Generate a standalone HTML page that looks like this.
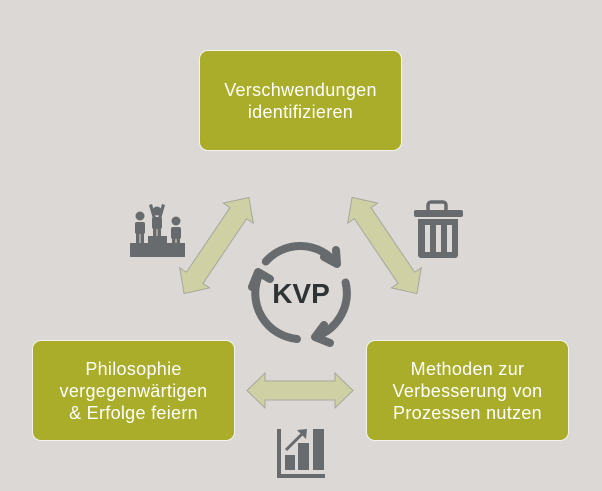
<!DOCTYPE html>
<html><head><meta charset="utf-8"><style>
html,body{margin:0;padding:0;background:#dcd8d5;}
body{width:602px;height:491px;position:relative;overflow:hidden;font-family:"Liberation Sans",sans-serif;}
.box{position:absolute;background:#a9ad29;border:1.5px solid #f4f4ec;border-radius:9px;color:#fff;font-size:18px;letter-spacing:0.3px;line-height:22px;text-align:center;display:flex;align-items:center;justify-content:center;box-sizing:border-box;}
</style></head><body>
<div class="box" style="left:199px;top:50px;width:203px;height:101px;">Verschwendungen<br>identifizieren</div>
<div class="box" style="left:32px;top:340px;width:203px;height:101px;">Philosophie<br>vergegenwärtigen<br>&amp; Erfolge feiern</div>
<div class="box" style="left:366px;top:340px;width:203px;height:101px;">Methoden zur<br>Verbesserung von<br>Prozessen nutzen</div>
<svg width="602" height="491" style="position:absolute;left:0;top:0">
<polygon points="247,390.5 265,373 265,381 335,381 335,373 353,390.5 335,408 335,400 265,400 265,408" fill="#cfd0a4" stroke="#a6a79c" stroke-width="1"/>
<g transform="translate(216.5,245.5) rotate(-56)">
<polygon points="-58,0 -39,-18 -39,-10 39,-10 39,-18 58,0 39,18 39,10 -39,10 -39,18" fill="#cfd0a4" stroke="#a6a79c" stroke-width="1"/>
</g>
<g transform="translate(384.5,245.5) rotate(56)">
<polygon points="-58,0 -39,-18 -39,-10 39,-10 39,-18 58,0 39,18 39,10 -39,10 -39,18" fill="#cfd0a4" stroke="#a6a79c" stroke-width="1"/>
</g>
<g fill="none" stroke="#676b6d" stroke-width="8" stroke-linecap="round" stroke-linejoin="round">
<path d="M265.8,261.5 A46,46 0 0 1 336.2,263.4"/>
<path d="M324,257 L337,264 L336,250"/>
<path d="M345.6,282.5 A46,46 0 0 1 316.7,336.2"/>
<path d="M330,343 L315,337 L324,325"/>
<path d="M297,339 A46,46 0 0 1 259,275"/>
<path d="M252,287 L258,272 L270,279"/>
</g>
<text x="301" y="303" text-anchor="middle" font-family="Liberation Sans,sans-serif" font-weight="bold" font-size="28" fill="#2e3335">KVP</text>
<g fill="#676b6d">
<rect x="130" y="243" width="55" height="14"/>
<rect x="148" y="236" width="19" height="8"/>
<circle cx="140" cy="216" r="4.5"/>
<rect x="135" y="222" width="10" height="12" rx="2"/>
<rect x="136" y="232" width="3.5" height="12"/><rect x="140.5" y="232" width="3.5" height="12"/>
<circle cx="157" cy="211" r="4.5"/>
<rect x="152" y="217" width="10" height="12" rx="2"/>
<rect x="153" y="227" width="3.5" height="10"/><rect x="157.5" y="227" width="3.5" height="10"/>
<polygon points="149,205 152,204 156,218 153,219"/><polygon points="165,205 162,204 158,218 161,219"/>
<circle cx="176" cy="221" r="4.5"/>
<rect x="171" y="227" width="10" height="12" rx="2"/>
<rect x="172" y="237" width="3.5" height="8"/><rect x="176.5" y="237" width="3.5" height="8"/>
</g>
<g fill="#676b6d">
<rect x="428" y="202" width="18" height="10" rx="3" fill="none" stroke="#676b6d" stroke-width="3.5"/>
<rect x="414" y="210" width="49" height="7" rx="2"/>
<path d="M418,219 H458 V255 a3,3 0 0 1 -3,3 H421 a3,3 0 0 1 -3,-3 Z"/>
</g>
<g fill="#dcd8d5">
<rect x="425" y="225" width="5" height="27"/><rect x="436" y="225" width="5" height="27"/><rect x="447" y="225" width="5" height="27"/>
</g>
<g fill="#676b6d">
<rect x="277" y="429" width="4" height="49"/>
<rect x="277" y="474" width="48" height="4"/>
<rect x="285" y="455" width="10" height="15"/>
<rect x="298" y="443" width="11" height="27"/>
<rect x="313" y="429" width="11" height="41"/>
<line x1="286" y1="450" x2="303" y2="433" stroke="#676b6d" stroke-width="3"/>
<polygon points="297,430 307,429 306,439"/>
</g>
</svg>
</body></html>
